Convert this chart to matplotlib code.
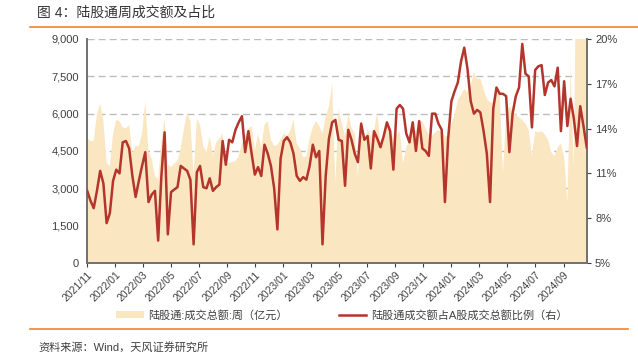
import matplotlib
matplotlib.use('Agg')
import matplotlib.pyplot as plt
import matplotlib.dates as mdates
from matplotlib.patches import Patch
from matplotlib.lines import Line2D
from matplotlib.ticker import FuncFormatter
import pandas as pd

plt.rcParams['font.family'] = ['Liberation Sans', 'Noto Sans CJK SC', 'DejaVu Sans']
plt.rcParams['axes.unicode_minus'] = False

# ===== 数据：陆股通周成交额（亿元）及占A股成交额比例（%） =====
weeks = pd.date_range('2021-11-01', periods=156, freq='7D')

volume = [
    5020, 4900, 4900, 6000, 6400, 5700, 4000, 3900, 5200, 5750,
    5700, 5450, 5400, 5550, 4400, 4700, 4700, 5200, 6500, 4450,
    4200, 3500, 3350, 4900, 5800, 3950, 3850, 4000, 4100, 4600,
    5400, 6050, 5700, 3500, 5800, 5550, 4700, 4450, 5100, 4300,
    4850, 5000, 5200, 4000, 4030, 4050, 4100, 4300, 4800, 5100,
    5400, 5500, 4500, 5200, 4650, 5550, 5700, 4950, 4700, 4750,
    4950, 5200, 5100, 5300, 5750, 4800, 4600, 4250, 4280, 5000,
    5450, 5700, 5500, 5200, 5900, 6300, 7200, 3200, 6200, 5600,
    5100, 6000, 5450, 5200, 3500, 5750, 4900, 5400, 5100, 5350,
    6050, 4900, 5050, 5550, 5350, 5000, 5150, 5300, 4000, 4650,
    4900, 5400, 5300, 5700, 5700, 5400, 5150, 5100, 5250, 5350,
    5250, 5100, 5100, 5600, 5950, 6550, 6750, 7000, 6850, 7150,
    7650, 7400, 7400, 7000, 6600, 6450, 6450, 7100, 6800, 3600,
    6050, 6300, 6100, 5950, 5850, 5750, 5600, 5350, 4300, 5300,
    5250, 5300, 5150, 4950, 4450, 4300, 4650, 4800, 4250, 2400,
    7800, 3800, 15000, 14000, 11000, 10000,
]

share = [
    9.82, 9.17, 8.67, 9.83, 11.17, 10.33, 7.67, 8.33, 10.50, 11.25,
    11.00, 13.08, 13.17, 12.67, 10.83, 9.42, 10.50, 11.50, 12.42, 9.08,
    9.58, 9.83, 6.50, 10.83, 13.75, 6.92, 9.75, 9.92, 10.08, 11.50,
    11.33, 11.17, 10.58, 6.25, 11.08, 11.50, 10.08, 10.00, 10.67, 9.83,
    10.08, 10.25, 13.17, 11.58, 13.25, 13.08, 13.92, 14.42, 14.83, 12.42,
    13.83, 12.33, 10.92, 11.42, 10.83, 12.92, 12.33, 11.50, 10.00, 7.25,
    12.00, 13.17, 13.42, 13.08, 12.33, 10.83, 10.50, 10.75, 10.58, 11.50,
    12.92, 12.08, 12.50, 6.25, 10.83, 13.33, 14.42, 14.58, 13.25, 13.17,
    10.17, 13.92, 13.25, 12.33, 11.75, 14.33, 13.25, 13.50, 11.33, 13.83,
    13.33, 12.75, 13.50, 14.42, 13.83, 11.25, 15.33, 15.58, 15.33, 13.67,
    13.08, 14.42, 12.50, 14.50, 12.67, 12.50, 12.17, 15.00, 15.00, 14.33,
    13.92, 9.08, 13.33, 15.83, 16.50, 17.08, 18.50, 19.42, 18.00, 15.83,
    15.00, 15.25, 15.08, 13.83, 12.33, 9.08, 15.33, 16.75, 16.33, 16.33,
    16.17, 12.42, 15.00, 16.17, 16.75, 19.67, 17.67, 17.50, 14.08, 17.92,
    18.17, 18.25, 16.25, 17.08, 17.25, 16.83, 18.08, 13.83, 17.17, 14.17,
    16.00, 14.67, 12.83, 15.50, 14.17, 12.75,
]

left_ticks = [0, 1500, 3000, 4500, 6000, 7500, 9000]
right_ticks = [5, 8, 11, 14, 17, 20]

AREA_COLOR = '#FBE6C2'
LINE_COLOR = '#B3352B'
TEXT_COLOR = '#404040'
ORANGE = '#F0842C'

fig = plt.figure(figsize=(6.38, 3.57), dpi=100)
ax = fig.add_axes([0.1368, 0.2633, 0.7828, 0.6275])
ax2 = ax.twinx()

# 面积：周成交额（左轴）
ax.fill_between(weeks, volume, 0, color=AREA_COLOR, lw=0, zorder=1)
ax.set_ylim(0, 9000)
ax.set_yticks(left_ticks)
ax.yaxis.set_major_formatter(FuncFormatter(lambda v, p: f'{int(v):,}'))
ax.set_xlim(weeks[0], weeks[-1])
for v in left_ticks[1:]:
    ax.axhline(v, color='#BDBDBD', lw=1.0, ls=(0, (5, 3)), zorder=0.5)

# 折线：占比（右轴）
ax2.plot(weeks, share, color=LINE_COLOR, lw=1.8, zorder=3)
ax2.set_ylim(5, 20)
ax2.set_yticks(right_ticks)
ax2.yaxis.set_major_formatter(FuncFormatter(lambda v, p: f'{int(v)}%'))

ax.xaxis.set_major_locator(mdates.MonthLocator(bymonth=[1, 3, 5, 7, 9, 11]))
ax.xaxis.set_major_formatter(mdates.DateFormatter('%Y/%m'))
for lbl in ax.get_xticklabels():
    lbl.set_rotation(45)
    lbl.set_ha('right')
    lbl.set_rotation_mode('anchor')

ax.tick_params(axis='x', labelsize=7.5, colors=TEXT_COLOR, length=3, width=0.8, pad=2)
ax.tick_params(axis='y', labelsize=8, colors=TEXT_COLOR, length=0, pad=6)
ax2.tick_params(axis='y', labelsize=8, colors=TEXT_COLOR, length=3, width=0.8, pad=3)

for a in (ax, ax2):
    a.spines['top'].set_visible(False)
    for s in ('left', 'bottom', 'right'):
        a.spines[s].set_color('#707070')
        a.spines[s].set_linewidth(1.2)

# 标题与分隔线
fig.text(37 / 638, 1 - 13 / 357, '图 4：陆股通周成交额及占比', fontsize=10,
         color='#333333', va='center', ha='left')
fig.add_artist(Line2D([30 / 638, 1.0], [1 - 27 / 357] * 2, color=ORANGE, lw=1.2))
fig.add_artist(Line2D([30 / 638, 628 / 638], [1 - 329 / 357] * 2, color=ORANGE, lw=1.2))
fig.text(38 / 638, 1 - 347 / 357, '资料来源：Wind，天风证券研究所', fontsize=8,
         color='#404040', va='center', ha='left')

# 图例
handles = [Patch(facecolor=AREA_COLOR, edgecolor='none', label='陆股通:成交总额:周（亿元）'),
           Line2D([], [], color=LINE_COLOR, lw=1.8, label='陆股通成交额占A股成交总额比例（右）')]
fig.legend(handles=handles, loc='center', bbox_to_anchor=(0.5355, 1 - 315 / 357), ncol=2,
           frameon=False, fontsize=8, handlelength=2.5, handletextpad=0.4,
           columnspacing=4.6, labelcolor=TEXT_COLOR)

fig.savefig('out.png', dpi=100)
